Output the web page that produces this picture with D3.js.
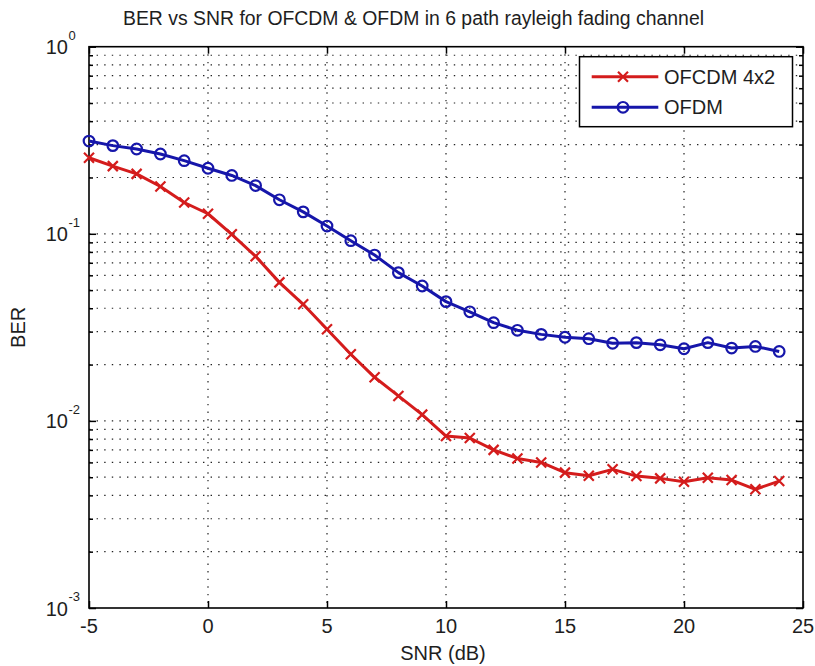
<!DOCTYPE html>
<html>
<head>
<meta charset="utf-8">
<script src="https://cdn.jsdelivr.net/npm/d3@7/dist/d3.min.js"></script>
<style>
  html, body { margin: 0; padding: 0; background: #ffffff; }
  svg { display: block; font-family: "Liberation Sans", Arial, Helvetica, sans-serif; }
</style>
</head>
<body>
<svg id="chart" width="815" height="666"></svg>
<script>
// ---- data ----
const snr = [-5,-4,-3,-2,-1,0,1,2,3,4,5,6,7,8,9,10,11,12,13,14,15,16,17,18,19,20,21,22,23,24];
const berOFCDM = [0.255,0.230,0.209,0.179,0.147,0.128,0.0994,0.0758,0.0550,0.0420,0.0309,0.0227,0.0171,0.0136,0.0108,0.0083,0.0081,0.0070,0.0063,0.0060,0.00529,0.00509,0.00551,0.00507,0.00493,0.00473,0.00497,0.00483,0.00431,0.00477];
const berOFDM = [0.313,0.296,0.284,0.267,0.246,0.224,0.205,0.181,0.152,0.131,0.110,0.0919,0.077,0.062,0.0526,0.0434,0.0383,0.0335,0.0305,0.0290,0.0280,0.0275,0.0260,0.0262,0.0255,0.0243,0.0262,0.0245,0.0250,0.0235];
const seriesNames = ["OFCDM 4x2", "OFDM"];
const xTicks = [-5,0,5,10,15,20,25];
const yExponents = [0,-1,-2,-3];
const titleText = "BER vs SNR for OFCDM & OFDM in 6 path rayleigh fading channel";
const xLabelText = "SNR (dB)";
const yLabelText = "BER";

// ---- layout ----
const L = 89, R = 803, T = 46.7, B = 608;
const red = "#d41c1c", blue = "#1616aa";
const textCol = "#1e1e1e";

const svg = d3.select("#chart");
const x = d3.scaleLinear().domain([-5, 25]).range([L, R]);
const y = d3.scaleLog().domain([1e-3, 1]).range([B, T]);

// minor log values
const minorVals = [];
for (let e = -3; e < 0; e++) for (let m = 2; m <= 9; m++) minorVals.push(m * Math.pow(10, e));
const majorVals = yExponents.map(e => Math.pow(10, e));

// grid
const grid = svg.append("g").attr("stroke", "#222").attr("stroke-width", 1.2)
  .attr("stroke-dasharray", "1.4,6.2").attr("fill", "none");
grid.selectAll("line.gy").data(majorVals.concat(minorVals).filter(v => v > 1e-3 && v < 1)).enter()
  .append("line").attr("x1", L).attr("x2", R).attr("y1", d => y(d)).attr("y2", d => y(d));
grid.selectAll("line.gx").data(xTicks.filter(v => v > -5 && v < 25)).enter()
  .append("line").attr("x1", d => x(d)).attr("x2", d => x(d)).attr("y1", T).attr("y2", B);

// axes via d3 axis generators (ticks inward)
const axBottom = d3.axisBottom(x).tickValues(xTicks).tickSize(-7).tickFormat("");
const axTop = d3.axisTop(x).tickValues(xTicks).tickSize(-7).tickFormat("");
svg.append("g").attr("transform", `translate(0,${B})`).call(axBottom);
svg.append("g").attr("transform", `translate(0,${T})`).call(axTop);
const axLeftMajor = d3.axisLeft(y).tickValues(majorVals).tickSize(-7).tickFormat("");
const axLeftMinor = d3.axisLeft(y).tickValues(minorVals).tickSize(-4).tickFormat("");
const axRightMajor = d3.axisRight(y).tickValues(majorVals).tickSize(-7).tickFormat("");
const axRightMinor = d3.axisRight(y).tickValues(minorVals).tickSize(-4).tickFormat("");
svg.append("g").attr("transform", `translate(${L},0)`).call(axLeftMajor);
svg.append("g").attr("transform", `translate(${L},0)`).call(axLeftMinor);
svg.append("g").attr("transform", `translate(${R},0)`).call(axRightMajor);
svg.append("g").attr("transform", `translate(${R},0)`).call(axRightMinor);
svg.selectAll(".domain").remove();
svg.selectAll(".tick line").attr("stroke", "#000").attr("stroke-width", 1.5);

// frame
svg.append("rect").attr("x", L).attr("y", T).attr("width", R - L).attr("height", B - T)
  .attr("fill", "none").attr("stroke", "#000").attr("stroke-width", 1.6);

// x tick labels
svg.append("g").selectAll("text").data(xTicks).enter().append("text")
  .attr("x", d => x(d)).attr("y", 633).attr("text-anchor", "middle")
  .attr("font-size", 20).attr("fill", textCol).text(d => d);

// y tick labels with superscript
const yl = svg.append("g").attr("fill", textCol);
yExponents.forEach(e => {
  const yy = y(Math.pow(10, e));
  yl.append("text").attr("x", 68).attr("y", yy + 7.5).attr("text-anchor", "end")
    .attr("font-size", 20).text("10");
  yl.append("text").attr("x", 68.5).attr("y", yy - 7).attr("text-anchor", "start")
    .attr("font-size", 13).text(String(e));
});

// title and labels
svg.append("text").attr("x", 123).attr("y", 25).attr("text-anchor", "start")
  .attr("font-size", 20).attr("fill", textCol)
  .attr("textLength", 581).attr("lengthAdjust", "spacingAndGlyphs").text(titleText);
svg.append("text").attr("x", 443).attr("y", 660).attr("text-anchor", "middle")
  .attr("font-size", 20).attr("fill", textCol).text(xLabelText);
svg.append("text").attr("transform", `translate(25,${(T + B) / 2}) rotate(-90)`)
  .attr("text-anchor", "middle").attr("font-size", 20).attr("fill", textCol).text(yLabelText);

// lines
const line = d3.line().x(d => x(d[0])).y(d => y(d[1]));
const dataOFCDM = snr.map((s, i) => [s, berOFCDM[i]]);
const dataOFDM = snr.map((s, i) => [s, berOFDM[i]]);

svg.append("path").datum(dataOFCDM).attr("d", line).attr("fill", "none")
  .attr("stroke", red).attr("stroke-width", 3).attr("stroke-linejoin", "round");
svg.append("path").datum(dataOFDM).attr("d", line).attr("fill", "none")
  .attr("stroke", blue).attr("stroke-width", 3).attr("stroke-linejoin", "round");

// markers
const s = 5;
svg.append("g").selectAll("path").data(dataOFCDM).enter().append("path")
  .attr("d", d => { const cx = x(d[0]), cy = y(d[1]);
    return `M${cx - s},${cy - s}L${cx + s},${cy + s}M${cx - s},${cy + s}L${cx + s},${cy - s}`; })
  .attr("stroke", red).attr("stroke-width", 2.2).attr("fill", "none");
svg.append("g").selectAll("circle").data(dataOFDM).enter().append("circle")
  .attr("cx", d => x(d[0])).attr("cy", d => y(d[1])).attr("r", 5.3)
  .attr("fill", "none").attr("stroke", blue).attr("stroke-width", 2.2);

// legend
const lg = svg.append("g");
lg.append("rect").attr("x", 579.5).attr("y", 56.7).attr("width", 213).attr("height", 70)
  .attr("fill", "#fff").attr("stroke", "#000").attr("stroke-width", 1.5);
const legY = [76.7, 107.3];
const colors = [red, blue];
seriesNames.forEach((n, i) => {
  const yy = legY[i];
  lg.append("line").attr("x1", 591.7).attr("x2", 658.3).attr("y1", yy).attr("y2", yy)
    .attr("stroke", colors[i]).attr("stroke-width", 3);
  if (i === 0) {
    const cx = 623;
    lg.append("path").attr("d", `M${cx - s},${yy - s}L${cx + s},${yy + s}M${cx - s},${yy + s}L${cx + s},${yy - s}`)
      .attr("stroke", red).attr("stroke-width", 2.2);
  } else {
    lg.append("circle").attr("cx", 623).attr("cy", yy).attr("r", 5.3)
      .attr("fill", "none").attr("stroke", blue).attr("stroke-width", 2.2);
  }
  lg.append("text").attr("x", 664).attr("y", yy + 7).attr("font-size", 20).attr("fill", textCol).text(n);
});
</script>
</body>
</html>
